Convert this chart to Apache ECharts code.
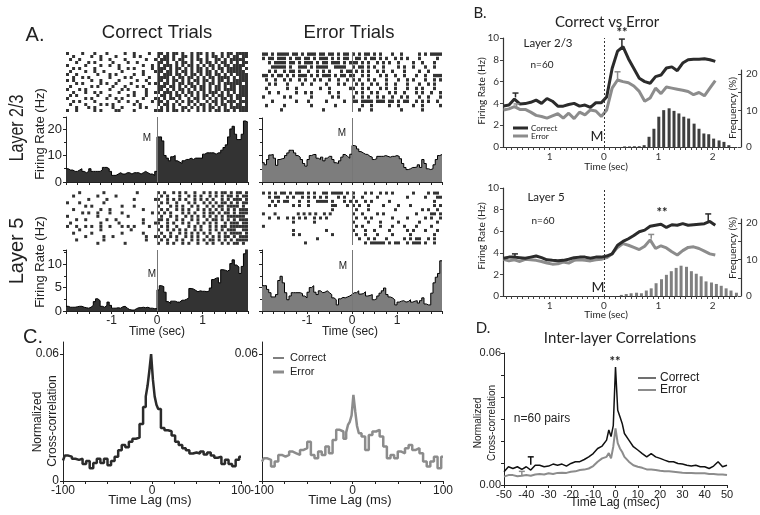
<!DOCTYPE html>
<html>
<head>
<meta charset="utf-8">
<script src="https://cdn.jsdelivr.net/npm/echarts@6/dist/echarts.min.js"></script>
<style>
  html, body { margin: 0; padding: 0; background: #fff; }
  #main { width: 760px; height: 515px; }
</style>
</head>
<body>
<div id="main"></div>
<script>
// ---------- Panel A: rasters ('#' = spike), pre = -2..0 s, post = 0..2 s ----------
const rasterC23Pre = [
  "#....#...#...#.....#..#....#..", "..#.....#..#....#.....#.#.....", ".#..#......#..#....#......#..#",
  "...#...#.#.....#....#..#......", "#.....#....#..#..#.......#..#.", "..#.#....#.......#..#.#.....#.",
  ".#....#..#..#.....#......#...#", "#..#......#...#.#.....#..#....", "..#..#.#......#....#.#.....#..",
  "#.#.....#..#.....#.....#..#...", "...#.#.....#.#..#....#.....#.#", ".#......#.#....#...#...#.#....",
  "#...#.#.......#...#.#.....#...", "..#...#..#.#.....#....#...#..#", ".#.#......#...#.....#.#...#...",
  "#.....#.#....#..#.#......#...#", "..#.#....#.......#..#..#....#.", ".#....#....#.#.#......#.#.....",
  "...#...#.#.....#..#.....#.#...", "#..#.....#.#....##....#......#"
];
const rasterC23Post = [
  "##.#.##.#..#.##.#.#..#.##.####", "#.##.#..##.#.#..#.##.#.#.##.##", ".###.#.##..#.##.#..##.#.#####.",
  "##.#..#.##.#..#.##.#.##.#.#.##", "#.###.#.#.##.#.#.##.#.##.####.", "###.#.##.#.#.##.#.#.##.#####.#",
  "##.##.#.##.#.##.##.#.#.######.", "#.###.##.#.##.#.##.##.#.#.####", "####.#.##.##.#.#.##.####.#.###",
  "##.#.##.#.#.##.##.#.##.#.#####", "#.##.#.##.##.#.#.##.#.######.#", "###.##.#.#.##.##.#.##.#.##.###",
  "##.#.#.##.#.#.##.#.##.####.###", "#.###.#.#.##.#.#.###.#.#.#.###", ".##.#.##.#.#.#.##.#.##.##.####",
  "#.#.##.#..#.##.#.#.#.##.#.##.#", "##.#..#.#.##.#..#.##.#.###.###", "#.##.#.#..#.#.##.#.#.##.#.##.#",
  ".#.#.#..##.#.#.#.##.#.#.######", "##.#.##.#.#..#.#.#.##.##.#.###"
];
const rasterE23Pre = [
  "##.#.####.##.#.###.##.##.#.##.", "#.##.###.#.##.##.#.###.#.#.##.", "..#.####.##.#.###.#.##.###.#.#",
  "...#####.#..###.#.####..####..", "..#.#..#.##.#..#..#.#.#...#.##", "##.#.##.#.#.###.#.#.###.#.##.#",
  ".#..#..#.#..#.#..#.#..#..#..#.", "..#.#...#....#..#....#...#.#..", ".#......#..#.......#..#......#",
  "..#..#.....#..#.#.....#..#....", "#......#.#......#......#.#....", "...#.......#...#.....#.....#..",
  ".#.....#........#.......#.....", "......#.............#........."
];
const rasterE23Post = [
  "#.#.##.#.#...#..#.....#.#.####", ".##.#.##.#.#..#.#.#...#.....#.", "##.#.#..#.#.#..#....#..#...#..",
  "#.##.#.#..#....#.#..#...#..#..", ".#.#.#..#.#..#...#....#..#....", "#..#.#...#.#..#..#...#..#..###",
  "#.#..#.#...#...#..#.#...#..#.#", ".#.#..#.#..#..#...#...#..#.#..", "#..#.#...#.#..#...#..#.#...#..",
  ".#.#..#.#...#.#..#...#.#..#..#", "#..#.#..#.#..#..#.#...#..#...#", "##.####.###.##.#.##..#.#.#..#.",
  "...#..#.....#..#....#..#.....#", "..#...#.........#......#......"
];
const rasterC5Pre = [
  "....#.......#..........#......", "..#.......#.....#.............", ".......#.....#........#......#",
  "#...#.......#.................", "......#.#.........#...#.......", "..#........#..#..........#....",
  ".....#.#..#...#...#.........#.", "#.........#.........#.........", "...#..#......#..#........#....",
  ".#.........#.....#.......#...#", "#..#..#.#..#..#...#.#.#....#..", "....#......#.........#........",
  "..#.....#.........#......#....", "......#.....#..#..........#..#", "...#........#.............#...",
  "..........#........#.........."
];
const rasterC5Post = [
  "#.#..#.#.#..#..#.#.#.##.#.##.#", ".#.#...#..#.#.#..#.#.#.##.#.##", "#..#.#.#.#..#.#.#.#..#.#.###.#",
  ".#.#..#...#.#..#.#.#.##.#.#.##", "#...#.#.#..#.#..#.#.##.####.#.", ".#.#..#.#.#..#.#.#.#.#.#.#.###",
  "#.#.#...#.#.#..#.##.#.##.#.###", ".#..#.#..#.#.#.#.#.#.#.######.", "##.#..#.#..#.#..#.##.#.#.#.###",
  "#..#.#..#.#..#.#.#.#..#.###.##", ".#.#..#...#.#.#..#.#.##.######", "#..#.#.#.#..#.#..#.#.#.###..##",
  ".#..#..#.#.#.#.#.#..#.#.####.#", "#.#.#.#..#.#.#..#.#.#.##.#.###", ".#.#..#.#..#.#.#.##.#.#.#.####",
  "#..#.#..#.#..#..#.#..#.#.##.#."
];
const rasterE5Pre = [
  "#.#.#.##.#.###.#.#..##.####.#.", "..#.##..#.#..#.#.#.#.#...#.#..", "...#.#.##...#..#..####.#...#.#",
  "..#.#.....#.#..#.......##...#.", ".......................#......", "#...#.......#.#.#.#..#.#.......",
  "..#..#..#.#.#.#..#.#.#........", "..........#......#............", "#..............................",
  "..........#..........#........", "..........#.#..........#......", "..................#...........",
  "..............#..............."
];
const rasterE5Post = [
  "#...#.#..#.#.#......#....#.##.", "#..#....#.........#.....#...##", ".#..#.#.....#..............#..",
  "#.#..#....#....#...#.......#.#", ".#...#........#........#.#..#.", "#..#....#.#..........#....##.#",
  ".#..#.#......#....#.....#.#..#", "#....#...#.....#......#.....#.", ".#.#.....#...#...#...#....#...",
  "#...#..#....#.....#.#...#...#.", ".#..#...#....#.....#.......#..", "..#..#.#...#.....#.#.##..#.#..",
  "....#.#####.#.##..#.###.#..#..", ".........##.#.#.#.#...#.#..#.."
];

// ---------- Panel A: PSTH firing rates (Hz), 0.05 s bins from -2 s ----------
const binWidth = 0.05;
const psthC23 = [5,4.5,4.5,4,4,4.5,5,4,3.5,4, 5,4,4,4,4,4.5,5.5,5.5,5,4,
  2.5,2.5,3,3.5,3,3,3.5,3.5,3,3.5, 3.5,3.5,3,3.5,4,3.5,3,3,2.5,4,
  17,17,15.5,10,9,8,9.5,10,8,7.5, 7,8,8.5,8.5,9,8.5,9,9,9,9,
  10.5,11,11,11,11,10.5,11,11,12,13, 14,17,20,21,18,16,16,18,23,22.5];
const psthE23 = [7.3,6.5,8.5,10.2,10.4,9,6.3,8.5,8.8,9, 10,11,12,12,11,10,9.4,8.5,7,6,
  8.5,10,10.4,10.4,9,8.5,9.4,8,9,9.7, 9.7,8.5,7.3,7,8,9.4,10.4,9.7,9,10.5,
  13.8,13.5,12.5,11.5,11,10.5,10.4,9.7,9.4,8.5, 8.8,9.7,9.7,9.7,10,9.7,9.4,9.7,9.7,10,
  9.7,8.8,7,5.5,4.7,5,5.5,5.5,5.7,6.5, 5.5,8.5,7,5,4.7,5,6.5,8.5,10,10.4];
const psthC5 = [1,0.8,0.8,0.8,0.9,1,1,0.8,0.7,0.6, 0.8,1.2,2,2.6,2.2,1,0.8,1.2,1.9,1.2,
  0.6,0.6,0.7,0.6,0.9,1,0.6,0.3,0.2,0.2, 0.5,0.7,0.7,0.8,0.7,0.8,0.6,0.6,0.5,0.5,
  4.5,5.4,5.2,4,2,1.6,2.1,2.1,1.9,1.9, 2.3,2.3,2.5,2.8,4.8,4.7,4.4,4.1,4.3,4.2,
  4.2,4.1,4.3,4.9,6.7,7,7.1,6,8.8,8.7, 8.5,8.8,10.1,10.9,9.8,9.4,8,9.5,12.2,13.4];
const psthE5 = [5.4,5.4,4.6,3.9,3,3,3.5,6.5,7.4,6, 3.9,2.4,3.2,3.9,3.9,3.9,3.9,3.7,3.2,2.8,
  4,5,5.4,4,3.5,4.3,3.9,4,4.3,3.9, 3.5,2.8,2.4,1.3,2.6,2.9,2.8,3,3.2,3.5,
  3.9,3.9,4.3,3.6,3.7,4.1,3.2,3.3,3.5,2.4, 2.6,3.2,3.8,4.3,4.9,3.5,3,2.8,2.4,1.3,
  1.9,2.1,2.2,1.9,2,2.4,1.9,2.1,2.2,1.7, 2.2,2.8,1.5,1.3,1.3,3.8,6,7.2,8,10.7];

// ---------- Panel B: population firing rate (Hz) ----------
const bTime = [-1.85,-1.75,-1.65,-1.55,-1.45,-1.35,-1.25,-1.15,-1.05,-0.95,-0.85,-0.75,-0.65,-0.55,-0.45,-0.35,-0.25,-0.15,-0.05,
  0.05,0.15,0.25,0.35,0.45,0.55,0.65,0.75,0.85,0.95,1.05,1.15,1.25,1.35,1.45,1.55,1.65,1.75,1.85,1.95,2.05];
const bCorrect23 = [3.77,3.85,4.4,3.95,3.98,4.1,4.3,4.0,4.45,4.2, 3.75,3.75,3.9,4.0,3.75,3.85,3.63,4.06,4.06,4.6,
  7.2,8.8,9.2,8.1,7.2,6.3,6.0,5.85,6.46,6.6, 7.25,7.35,7.0,7.7,8.0,8.06,8.06,8.1,8.0,7.85];
const bError23 = [3.4,3.5,3.7,3.45,3.45,3.2,2.9,2.8,2.65,2.85, 3.05,2.65,3.1,2.6,3.2,2.95,3.4,3.3,2.8,3.4,
  5.4,6.15,6.0,5.9,5.6,5.1,4.2,4.5,5.4,4.9, 5.5,5.4,5.3,5.2,5.1,4.8,5.0,4.7,5.4,6.1];
const bCorrect5 = [3.5,3.6,3.6,3.55,3.5,3.6,3.7,3.55,3.35,3.3, 3.26,3.3,3.4,3.55,3.6,3.6,3.5,3.6,3.6,3.7,
  3.9,4.7,5.05,5.3,5.6,5.95,6.1,6.45,6.55,6.65, 6.35,6.6,6.55,6.7,6.55,6.6,6.65,6.7,6.9,6.55];
const bError5 = [3.4,3.25,3.35,3.2,3.4,3.35,3.3,3.2,3.05,2.95, 2.98,3.15,3.05,3.3,3.35,3.3,3.25,3.35,3.4,3.55,
  3.9,4.5,4.85,4.7,4.5,4.3,4.6,5.2,4.4,4.65, 4.45,4.1,3.8,4.2,4.5,4.55,4.4,4.15,3.9,3.8];
// error bars: [time, value, upper]
const bErrC23 = [[-1.63, 4.55, 4.95], [0.33, 9.2, 9.9]];
const bErrE23 = [[-1.61, 3.7, 3.95], [0.25, 6.15, 6.9]];
const bErrC5 = [[-1.64, 3.6, 3.9], [1.92, 6.95, 7.6]];
const bErrE5 = [[0.87, 5.3, 5.7]];
// response time histograms (% of trials)
const hist23T = [0.38,0.47,0.56,0.65,0.74,0.83,0.92,1.01,1.10,1.20,1.29,1.38,1.47,1.56,1.66,1.75,1.84,1.93,2.02,2.12,2.21,2.30];
const hist23 = [0.15,0.15,0.2,0.2,0.5,2.8,5.0,8.3,10.1,10.6,9.9,9.2,8.3,7.8,6.4,5.0,3.7,3.5,2.3,1.8,1.4,0.5];
const hist5T = [0.32,0.41,0.50,0.60,0.69,0.78,0.87,0.96,1.06,1.15,1.24,1.33,1.42,1.52,1.61,1.70,1.79,1.88,1.98,2.07,2.16,2.25,2.34,2.44];
const hist5 = [0.3,0.55,0.75,0.9,0.75,1.5,2.1,3.5,4.6,5.8,6.8,7.7,8.3,8.0,6.8,6.1,5.4,4.0,3.7,3.3,2.8,2.1,1.5,0.9];

// ---------- Panel C: cross-correlation (ms) ----------
const lagC = [-100,-96,-92,-88,-84,-80,-76,-72,-68,-64,-60,-56,-52,-48,-44,-40,-36,-32,-28,-24,-20,-16,-12,-8,
  -6,-4,-2,0,2,4,6, 8,12,16,20,24,28,32,36,40,44,48,52,56,60,64,68,72,76,80,84,88,92,96,100];
const ccCorrect = [0.0097,0.0120,0.0115,0.0105,0.0100,0.0105,0.0080,0.0095,0.0060,0.0085,0.0105,0.0085,0.0105,0.0075,0.0095,0.0115,0.0145,0.0170,0.0160,0.0185,0.0200,0.0205,0.0270,0.0350,
  0.040,0.045,0.052,0.060,0.048,0.040,0.036,
  0.034,0.025,0.024,0.0235,0.0215,0.0185,0.0170,0.0155,0.0145,0.0130,0.0135,0.0130,0.0140,0.0125,0.0135,0.0120,0.0110,0.0115,0.0080,0.0100,0.0080,0.0070,0.0100,0.0115];
const ccError = [0.0092,0.0107,0.0100,0.0068,0.0092,0.0123,0.0115,0.0123,0.0139,0.0131,0.0123,0.0147,0.0155,0.0186,0.0123,0.0107,0.0139,0.0123,0.0163,0.0131,0.0194,0.0242,0.0234,0.0200,
  0.0230,0.0265,0.0280,0.0310,0.0407,0.0330,0.0260,
  0.0226,0.0210,0.0147,0.0218,0.0234,0.0242,0.0210,0.0163,0.0107,0.0123,0.0107,0.0139,0.0131,0.0155,0.0170,0.0147,0.0155,0.0131,0.0092,0.0068,0.0092,0.0115,0.0060,0.0115];

// ---------- Panel D: inter-layer correlations (msec) ----------
const lagD = [-50,-48,-46,-44,-42,-40,-38,-36,-34,-32,-30,-28,-26,-24,-22,-20,-18,-16,-14,-12,-10,-8,-6,-4,
  -3,-2,-1,0,1,2,3, 4,6,8,10,12,14,16,18,20,22,24,26,28,30,32,34,36,38,40,42,44,46,48,50];
const dCorrect = [0.0060,0.0083,0.0075,0.0083,0.0071,0.0083,0.0068,0.0090,0.0090,0.0083,0.0086,0.0095,0.0090,0.0095,0.0086,0.0098,0.0106,0.0106,0.0116,0.0128,0.0143,0.0166,0.0177,0.0204,
  0.0250,0.0220,0.0270,0.0536,0.0340,0.0310,0.0280,
  0.0234,0.0204,0.0174,0.0159,0.0143,0.0128,0.0143,0.0128,0.0121,0.0113,0.0106,0.0106,0.0098,0.0095,0.0090,0.0086,0.0090,0.0083,0.0083,0.0075,0.0086,0.0106,0.0083,0.0090];
const dError = [0.0038,0.0045,0.0045,0.0040,0.0042,0.0045,0.0042,0.0048,0.0050,0.0048,0.0053,0.0050,0.0055,0.0056,0.0055,0.0060,0.0062,0.0068,0.0070,0.0075,0.0086,0.0106,0.0121,0.0128,
  0.0145,0.0121,0.0174,0.0257,0.0190,0.0166,0.0150,
  0.0128,0.0106,0.0090,0.0083,0.0078,0.0071,0.0070,0.0068,0.0065,0.0063,0.0062,0.0060,0.0058,0.0056,0.0055,0.0055,0.0053,0.0053,0.0053,0.0050,0.0050,0.0048,0.0048,0.0045];
const dErrC = [[-38, 0.0092, 0.0128]];
const dErrE = [[-42, 0.0043, 0.0062]];

// ---------- helpers ----------
const ARIAL = "'Liberation Sans', Arial, sans-serif";
const CALI = "Lato, 'Open Sans', sans-serif";
const INK = '#222';

function rasterPoints(pre, post) {
  const pts = [];
  pre.forEach((row, r) => {
    for (let j = 0; j < row.length; j++) if (row[j] === '#') pts.push([-2 + (j + 0.5) * 2 / row.length, r + 0.5]);
  });
  post.forEach((row, r) => {
    for (let j = 0; j < row.length; j++) if (row[j] === '#') pts.push([(j + 0.5) * 2 / row.length, r + 0.5]);
  });
  return pts;
}
function psthPoints(vals) {
  const pts = vals.map((v, i) => [-2 + i * binWidth, v]);
  pts.push([2, vals[vals.length - 1]]);
  return pts;
}
const zip = (xs, ys) => xs.map((x, i) => [x, ys[i]]);

function errRender(color) {
  return function (params, api) {
    const p = api.coord([api.value(0), api.value(1)]);
    const q = api.coord([api.value(0), api.value(2)]);
    const st = { stroke: color, lineWidth: 1.5 };
    return {
      type: 'group', children: [
        { type: 'line', shape: { x1: p[0], y1: p[1], x2: q[0], y2: q[1] }, style: st },
        { type: 'line', shape: { x1: q[0] - 3, y1: q[1], x2: q[0] + 3, y2: q[1] }, style: st }
      ]
    };
  };
}

const mLine = (color, type) => ({
  silent: true, symbol: 'none', label: { show: false },
  lineStyle: { color: color, width: 1, type: type || 'solid' },
  data: [{ xAxis: 0 }]
});

function txt(x, y, s, size, font, extra) {
  return Object.assign({
    type: 'text', x: x, y: y, z: 100,
    style: { text: s, fontSize: size, fontFamily: font, fill: INK, align: 'center', verticalAlign: 'middle' }
  }, extra || {});
}
function ltxt(x, y, s, size, font) {
  return { type: 'text', x: x, y: y, z: 100,
    style: { text: s, fontSize: size, fontFamily: font, fill: INK, align: 'left', verticalAlign: 'middle' } };
}
function stars(x, y) {
  return { type: 'text', x: x, y: y, z: 100,
    style: { text: '**', fontSize: 13, fontWeight: 'bold', fontFamily: CALI, fill: INK, align: 'center', verticalAlign: 'middle' } };
}
function vtxt(x, y, s, size, font, extra) {
  return txt(x, y, s, size, font, Object.assign({ rotation: Math.PI / 2 }, extra || {}));
}
function seg(x1, y1, x2, y2, color, w) {
  return { type: 'line', z: 100, shape: { x1, y1, x2, y2 }, style: { stroke: color, lineWidth: w } };
}

// ---------- layout ----------
const grids = [
  { left: 66, top: 52, width: 182, height: 60 },    // 0 raster correct L2/3
  { left: 66, top: 117, width: 182, height: 65 },   // 1 psth correct L2/3
  { left: 262, top: 52, width: 180, height: 60 },   // 2 raster error L2/3
  { left: 262, top: 118, width: 180, height: 64 },  // 3 psth error L2/3
  { left: 66, top: 191, width: 182, height: 54 },   // 4 raster correct L5
  { left: 66, top: 250, width: 182, height: 61 },   // 5 psth correct L5
  { left: 262, top: 191, width: 180, height: 54 },  // 6 raster error L5
  { left: 262, top: 250, width: 180, height: 61 },  // 7 psth error L5
  { left: 503, top: 38, width: 234, height: 109 },  // 8 B L2/3 lines
  { left: 503, top: 70, width: 238, height: 77 },   // 9 B L2/3 histogram
  { left: 503, top: 188, width: 234, height: 108 }, // 10 B L5 lines
  { left: 503, top: 219, width: 238, height: 77 },  // 11 B L5 histogram
  { left: 63, top: 342, width: 178, height: 139 },  // 12 C correct
  { left: 262, top: 342, width: 181, height: 139 }, // 13 C error
  { left: 504, top: 353, width: 223, height: 132 }  // 14 D
].map(g => Object.assign({ outerBoundsMode: 'none' }, g));

const axLine = { show: true, onZero: false, lineStyle: { color: INK, width: 1 } };
const bLineStyle = { show: true, onZero: false, lineStyle: { color: '#333', width: 1.2 } };
const hidden = (min, max, extra) => Object.assign({ type: 'value', min, max, show: false }, extra || {});

function psthX(gi, labels) {
  return {
    type: 'value', gridIndex: gi, min: -2, max: 2, interval: 0.25,
    axisLine: axLine, splitLine: { show: false },
    axisTick: { show: true, length: 3, lineStyle: { color: INK } },
    axisLabel: {
      show: labels, margin: 4, fontSize: 12, fontFamily: ARIAL, color: INK,
      formatter: v => (v === -1 ? '-1' : v === 0 ? '0' : v === 1 ? '1' : '')
    }
  };
}
function psthY(gi, max, interval, labels) {
  return {
    type: 'value', gridIndex: gi, min: 0, max: max, interval: interval,
    axisLine: axLine, splitLine: { show: false },
    axisTick: { show: true, length: 3, lineStyle: { color: INK } },
    minorTick: { show: true, splitNumber: 2, length: 2, lineStyle: { color: INK } },
    axisLabel: { show: labels, showMaxLabel: false, margin: 4, fontSize: 13, fontFamily: ARIAL, color: INK }
  };
}

const bTicks = [];
for (let k = -18; k <= 24; k++) bTicks.push(k / 10);

function bX(gi) {
  return {
    type: 'value', gridIndex: gi, min: -1.86, max: 2.45,
    axisLine: bLineStyle, splitLine: { show: false },
    axisTick: { show: true, length: 3, customValues: bTicks, lineStyle: { color: '#444' } },
    axisLabel: { customValues: [-1, 0, 1, 2], formatter: v => String(Math.abs(v)), margin: 5,
      fontSize: 10, fontFamily: CALI, color: '#333' }
  };
}
function bY(gi) {
  return {
    type: 'value', gridIndex: gi, min: 0, max: 10, interval: 2,
    axisLine: bLineStyle, splitLine: { show: false },
    axisTick: { show: true, length: 3, lineStyle: { color: '#444' } },
    axisLabel: { margin: 4, fontSize: 10, fontFamily: CALI, color: '#333' }
  };
}
function bYR(gi) {
  return {
    type: 'value', gridIndex: gi, position: 'right', min: 0, max: 21.1, interval: 5,
    axisLine: bLineStyle, splitLine: { show: false },
    axisTick: { show: true, length: 3, inside: true, lineStyle: { color: '#444' } },
    axisLabel: { showMaxLabel: false, margin: 5, fontSize: 10, fontFamily: CALI, color: '#333',
      formatter: v => (v === 0 || v === 10 || v === 20 ? String(v) : '') }
  };
}
function cX(gi) {
  return {
    type: 'value', gridIndex: gi, min: -100, max: 100, interval: 25,
    axisLine: axLine, splitLine: { show: false },
    axisTick: { show: true, length: 3, lineStyle: { color: INK } },
    axisLabel: { margin: 4, fontSize: 12, fontFamily: ARIAL, color: INK,
      formatter: v => (v === -100 || v === 0 || v === 100 ? String(v) : '') }
  };
}
function cY(gi, showZero) {
  return {
    type: 'value', gridIndex: gi, min: 0, max: 0.0657, interval: 0.06,
    axisLine: axLine, splitLine: { show: false },
    axisTick: { show: true, length: 3, lineStyle: { color: INK } },
    axisLabel: { showMaxLabel: false, margin: 4, fontSize: 12, fontFamily: ARIAL, color: INK,
      formatter: v => (v === 0 ? (showZero ? '0' : '') : Math.abs(v - 0.06) < 1e-9 ? '0.06' : '') }
  };
}

const xAxes = [
  hidden(-2, 2, { gridIndex: 0 }), psthX(1, false),
  hidden(-2, 2, { gridIndex: 2 }), psthX(3, false),
  hidden(-2, 2, { gridIndex: 4 }), psthX(5, true),
  hidden(-2, 2, { gridIndex: 6 }), psthX(7, true),
  bX(8), hidden(-1.86, 2.524, { gridIndex: 9 }),
  bX(10), hidden(-1.86, 2.524, { gridIndex: 11 }),
  cX(12), cX(13),
  {
    type: 'value', gridIndex: 14, min: -50, max: 50, interval: 10,
    axisLine: axLine, splitLine: { show: false },
    axisTick: { show: true, length: 3, lineStyle: { color: INK } },
    axisLabel: { margin: 4, fontSize: 11, fontFamily: ARIAL, color: INK }
  }
];
const yAxes = [
  hidden(0, rasterC23Pre.length, { gridIndex: 0, inverse: true }), psthY(1, 24.5, 10, true),
  hidden(0, rasterE23Pre.length, { gridIndex: 2, inverse: true }), psthY(3, 24.2, 10, false),
  hidden(0, rasterC5Pre.length, { gridIndex: 4, inverse: true }), psthY(5, 13, 5, true),
  hidden(0, rasterE5Pre.length, { gridIndex: 6, inverse: true }), psthY(7, 13, 5, false),
  bY(8), bYR(9), bY(10), bYR(11),
  cY(12, true), cY(13, false),
  {
    type: 'value', gridIndex: 14, min: 0, max: 0.06, interval: 0.01,
    axisLine: axLine, splitLine: { show: false },
    axisTick: { show: true, length: 3, lineStyle: { color: INK } },
    axisLabel: { margin: 3, fontSize: 11, fontFamily: ARIAL, color: INK,
      formatter: v => (v === 0 ? '0.00' : Math.abs(v - 0.06) < 1e-9 ? '0.06' : '') }
  }
];

function raster(gi, pre, post, size) {
  return {
    type: 'scatter', xAxisIndex: gi, yAxisIndex: gi, data: rasterPoints(pre, post),
    symbol: 'rect', symbolSize: size, itemStyle: { color: '#000' }, silent: true,
    markLine: mLine('#777')
  };
}
function psth(gi, vals, fill) {
  return {
    type: 'line', xAxisIndex: gi, yAxisIndex: gi, data: psthPoints(vals), step: 'end',
    symbol: 'none', lineStyle: { color: '#000', width: 1 }, areaStyle: { color: fill, opacity: 1 },
    silent: true, markLine: mLine('#777')
  };
}
function bLine(gi, ys, color, mark) {
  const s = {
    type: 'line', xAxisIndex: gi, yAxisIndex: gi, data: zip(bTime, ys), symbol: 'none',
    lineStyle: { color: color, width: 3 }, silent: true
  };
  if (mark) s.markLine = mLine('#333', [2, 2]);
  return s;
}
function errBars(gi, data, color) {
  return { type: 'custom', xAxisIndex: gi, yAxisIndex: gi, data: data, renderItem: errRender(color), silent: true, z: 5 };
}
function hist(gi, ts, vs, color) {
  return {
    type: 'bar', xAxisIndex: gi, yAxisIndex: gi, data: zip(ts, vs), barWidth: 3,
    itemStyle: { color: color }, silent: true
  };
}

const DARK = '#2b2b2b', GREY = '#8c8c8c';

const series = [
  raster(0, rasterC23Pre, rasterC23Post, [3, 3]),
  psth(1, psthC23, '#333'),
  raster(2, rasterE23Pre, rasterE23Post, [3, 3.4]),
  psth(3, psthE23, '#7d7d7d'),
  raster(4, rasterC5Pre, rasterC5Post, [3, 3]),
  psth(5, psthC5, '#333'),
  raster(6, rasterE5Pre, rasterE5Post, [3, 3]),
  psth(7, psthE5, '#7d7d7d'),

  hist(9, hist23T, hist23, '#3e3e3e'),
  bLine(8, bError23, GREY, false),
  bLine(8, bCorrect23, DARK, true),
  errBars(8, bErrC23, DARK), errBars(8, bErrE23, GREY),

  hist(11, hist5T, hist5, '#808080'),
  bLine(10, bError5, GREY, false),
  bLine(10, bCorrect5, DARK, true),
  errBars(10, bErrC5, DARK), errBars(10, bErrE5, GREY),

  { type: 'line', xAxisIndex: 12, yAxisIndex: 12, data: zip(lagC, ccCorrect), step: 'middle', symbol: 'none',
    lineStyle: { color: DARK, width: 2.5 }, silent: true },
  { type: 'line', xAxisIndex: 13, yAxisIndex: 13, data: zip(lagC, ccError), step: 'middle', symbol: 'none',
    lineStyle: { color: GREY, width: 2.5 }, silent: true },

  { type: 'line', xAxisIndex: 14, yAxisIndex: 14, data: zip(lagD, dError), symbol: 'none',
    lineStyle: { color: GREY, width: 2 }, silent: true },
  { type: 'line', xAxisIndex: 14, yAxisIndex: 14, data: zip(lagD, dCorrect), symbol: 'none',
    lineStyle: { color: '#111', width: 1.5 }, silent: true },
  errBars(14, dErrC, '#111'), errBars(14, dErrE, GREY)
];

const graphics = [
  // Panel A
  txt(35, 35, 'A.', 20, ARIAL),
  txt(157, 33, 'Correct Trials', 18.5, ARIAL),
  txt(349, 33, 'Error Trials', 18.5, ARIAL),
  vtxt(17, 128, 'Layer 2/3', 20, ARIAL, { scaleX: 0.8 }),
  vtxt(40, 134, 'Firing Rate (Hz)', 13, ARIAL),
  vtxt(17, 251, 'Layer 5', 20, ARIAL),
  vtxt(40, 262, 'Firing Rate (Hz)', 13, ARIAL),
  txt(147, 138, 'M', 10, ARIAL), txt(342, 133, 'M', 10, ARIAL),
  txt(152, 274, 'M', 10, ARIAL), txt(343, 266, 'M', 10, ARIAL),
  txt(157, 332, 'Time (sec)', 12, ARIAL), txt(350, 332, 'Time (sec)', 12, ARIAL),

  // Panel B
  txt(480, 13, 'B.', 15, CALI),
  txt(607, 22, 'Correct vs Error', 15, CALI),
  txt(548, 43, 'Layer 2/3', 11.5, CALI),
  txt(542, 65, 'n=60', 10, CALI),
  stars(622, 33),
  seg(513, 128, 528, 128, DARK, 3), ltxt(531, 128, 'Correct', 8, CALI),
  seg(513, 136, 528, 136, GREY, 3), ltxt(531, 136, 'Error', 8, CALI),
  txt(597, 136, 'M', 14, CALI),
  vtxt(482, 91, 'Firing Rate (Hz)', 10, CALI),
  vtxt(733, 108, 'Frequency (%)', 10, CALI),
  txt(606, 167, 'Time (sec)', 10, CALI),

  txt(546, 197, 'Layer 5', 11.5, CALI),
  txt(543, 221, 'n=60', 10, CALI),
  stars(662, 213),
  txt(598, 287, 'M', 14, CALI),
  vtxt(482, 236, 'Firing Rate (Hz)', 10, CALI),
  vtxt(733, 248, 'Frequency (%)', 10, CALI),
  txt(606, 315, 'Time (sec)', 10, CALI),

  // Panel C
  txt(33, 337, 'C.', 20, ARIAL),
  vtxt(38, 422, 'Normalized', 12, ARIAL),
  vtxt(53, 421, 'Cross-correlation', 12, ARIAL),
  txt(150, 500, 'Time Lag (ms)', 13, ARIAL),
  txt(350, 500, 'Time Lag (ms)', 13, ARIAL),
  seg(273, 358, 284, 358, DARK, 1.2), ltxt(290, 358, 'Correct', 11, ARIAL),
  seg(273, 372, 284, 372, GREY, 3), ltxt(290, 372, 'Error', 11, ARIAL),

  // Panel D
  txt(483, 328, 'D.', 15, CALI),
  txt(620, 338, 'Inter-layer Correlations', 15, CALI),
  stars(615, 362),
  seg(638, 378, 656, 378, '#111', 1.2), ltxt(660, 378, 'Correct', 12, ARIAL),
  seg(638, 390, 656, 390, GREY, 2), ltxt(660, 390, 'Error', 12, ARIAL),
  txt(542, 419, 'n=60 pairs', 12, ARIAL),
  vtxt(478, 423, 'Normalized', 10, ARIAL),
  vtxt(492, 423, 'Cross-correlation', 10, ARIAL),
  txt(615, 503, 'Time Lag (msec)', 12, ARIAL)
];

const chart = echarts.init(document.getElementById('main'));
chart.setOption({
  animation: false,
  backgroundColor: '#fff',
  grid: grids,
  xAxis: xAxes,
  yAxis: yAxes,
  series: series,
  graphic: graphics
});
</script>
</body>
</html>
